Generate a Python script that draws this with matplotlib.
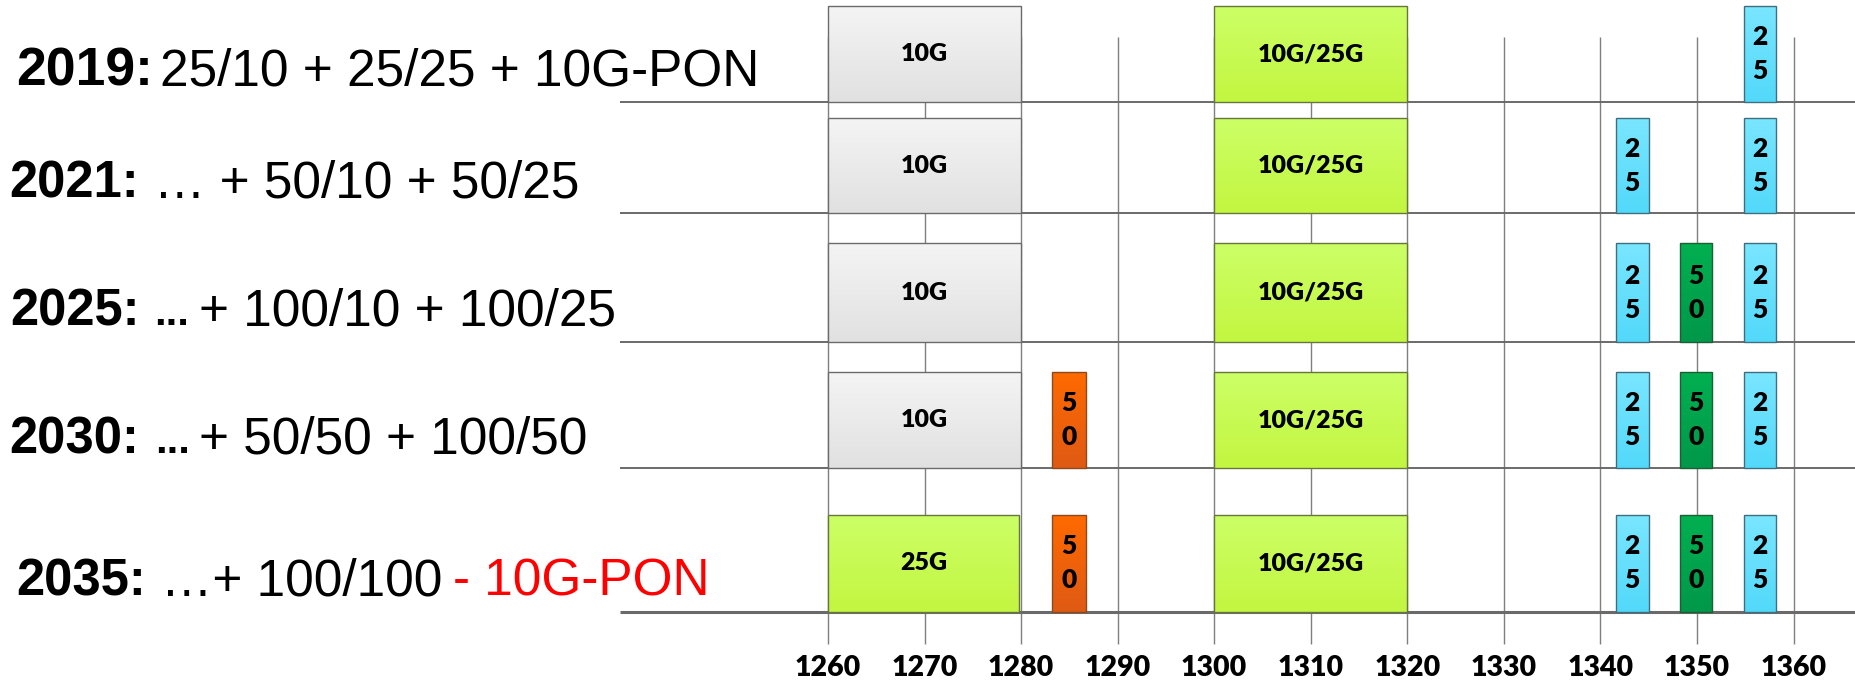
import numpy as np
import matplotlib
matplotlib.use("Agg")
import matplotlib.pyplot as plt
from matplotlib.colors import to_rgb
from matplotlib.patches import Rectangle

# ---- data -------------------------------------------------------------
years = ["2019:", "2021:", "2025:", "2030:", "2035:"]
wavelength_ticks = [1260, 1270, 1280, 1290, 1300, 1310, 1320, 1330, 1340, 1350, 1360]

# channel name -> wavelength band (nm)
chan_lo = {"10G": 1260.0, "25G": 1260.0, "50O": 1283.2, "10G/25G": 1300.0,
           "25L": 1341.6, "50G": 1348.2, "25R": 1354.9}
chan_hi = {"10G": 1280.0, "25G": 1279.8, "50O": 1286.7, "10G/25G": 1320.0,
           "25L": 1345.0, "50G": 1351.6, "25R": 1358.2}
chan_text = {"10G": "10G", "25G": "25G", "50O": "50", "10G/25G": "10G/25G",
             "25L": "25", "50G": "50", "25R": "25"}
chan_style = {"10G": "gray", "25G": "lime", "50O": "orange", "10G/25G": "lime",
              "25L": "blue", "50G": "green", "25R": "blue"}

row_channels = [
    ["10G", "10G/25G", "25R"],
    ["10G", "10G/25G", "25L", "25R"],
    ["10G", "10G/25G", "25L", "50G", "25R"],
    ["10G", "50O", "10G/25G", "25L", "50G", "25R"],
    ["25G", "50O", "10G/25G", "25L", "50G", "25R"],
]

# row captions: (text, kind) pieces after the bold year
row_pieces = [
    [("25/10 + 25/25 + 10G-PON", "reg")],
    [("\u2026 + 50/10 + 50/25", "reg")],
    [("...", "dots"), ("+ 100/10 + 100/25", "reg")],
    [("...", "dots"), ("+ 50/50 + 100/50", "reg")],
    [("\u2026+ 100/100", "reg"), ("- 10G-PON", "red")],
]

# ---- styles / layout (pixel units, y down) -----------------------------
colors = {
    "gray":   ("#f4f4f4", "#e1e1e1", "#6b6b6b"),
    "lime":   ("#ccff66", "#c3f640", "#66763c"),
    "blue":   ("#7ae6ff", "#52d9fa", "#3f6f7f"),
    "green":  ("#00b050", "#00984a", "#1d5e35"),
    "orange": ("#ff6a00", "#df5a14", "#8b4a1e"),
}
row_line_y = [102, 213, 342, 468, 612]
row_box_top = [6, 118, 243, 372, 515]
row_base_y = [85, 197, 325, 453, 596]
row_year_x = [16, 9, 10, 9, 16]
row_year_size = [38.5, 36.5, 36.5, 36.5, 36.5]
row_piece_x = [[160], [154], [154, 199], [155, 199], [161, 453]]

W, H = 1856, 685
px_per_nm = 9.655
x_left = 1260 - 828 / px_per_nm
x_right = x_left + W / px_per_nm
hline_start = 1260 - (828 - 620) / px_per_nm

fig = plt.figure(figsize=(W / 100, H / 100), dpi=100)
ax = fig.add_axes([0, 0, 1, 1])
ax.set_axis_off()

# grid
ax.vlines(wavelength_ticks, 37, 644, color="#7f7f7f", lw=1.0, zorder=1)
ax.hlines(row_line_y[:-1], hline_start, x_right, color="#6a6a6a", lw=1.4, zorder=1)
ax.hlines(row_line_y[-1], hline_start, x_right, color="#6a6a6a", lw=2.2, zorder=1)

box_font = "Lato"
box_weight = "heavy"


def draw_box(lo, hi, top, bottom, style, label):
    c_top, c_bot, c_edge = colors[style]
    t = np.linspace(0, 1, 64)[:, None]
    grad = (1 - t) * np.array(to_rgb(c_top)) + t * np.array(to_rgb(c_bot))
    ax.imshow(grad[:, None, :], extent=(lo, hi, bottom, top), origin="upper",
              aspect="auto", interpolation="bilinear", zorder=2)
    ax.add_patch(Rectangle((lo, top), hi - lo, bottom - top, fill=False,
                           edgecolor=c_edge, lw=1.0, zorder=3))
    xc = (lo + hi) / 2
    yc = (top + bottom) / 2
    if hi - lo < 6:
        # narrow channel: digits stacked
        for k, ch in enumerate(label):
            ax.text(xc, yc + (k - 0.5) * 34, ch, ha="center", va="center",
                    fontsize=19, fontweight=box_weight, family=box_font, zorder=4)
    else:
        ax.text(xc, yc, label, ha="center", va="center", fontsize=18,
                fontweight=box_weight, family=box_font, zorder=4)


for r, chans in enumerate(row_channels):
    for name in chans:
        draw_box(chan_lo[name], chan_hi[name], row_box_top[r], row_line_y[r],
                 chan_style[name], chan_text[name])

# x tick labels
for v in wavelength_ticks:
    ax.text(v, 668, str(v), ha="center", va="center", fontsize=20.5,
            fontweight=box_weight, family=box_font)

ax.set_xlim(x_left, x_right)
ax.set_ylim(H, 0)

# row captions
cap_font = "Liberation Sans"


def px_to_x(px):
    return x_left + px / px_per_nm


for r in range(len(years)):
    y = row_base_y[r]
    ax.text(px_to_x(row_year_x[r]), y, years[r], ha="left", va="baseline",
            fontsize=row_year_size[r], fontweight="bold", family=cap_font)
    for (s, kind), xp in zip(row_pieces[r], row_piece_x[r]):
        kw = dict(fontsize=37, family=cap_font, color="black")
        if kind == "dots":
            kw.update(fontsize=30, fontweight="bold")
        if kind == "red":
            kw.update(color="#ff0000")
        ax.text(px_to_x(xp), y, s, ha="left", va="baseline", **kw)

fig.savefig("out.png", dpi=100)
